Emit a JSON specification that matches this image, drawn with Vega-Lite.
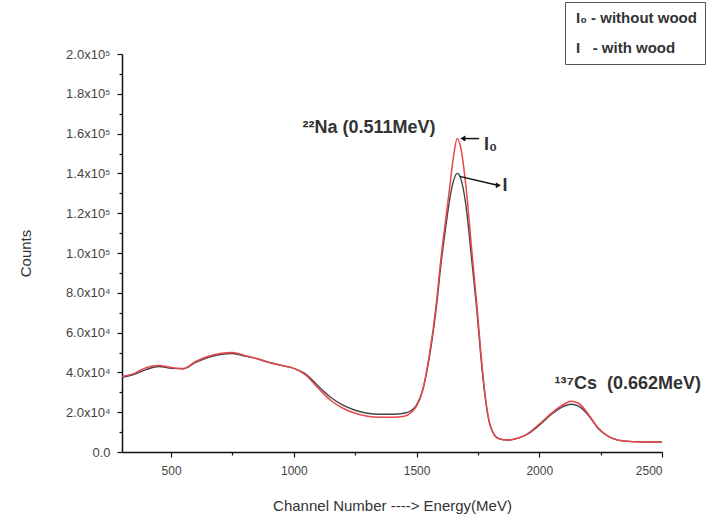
{
  "$schema": "https://vega.github.io/schema/vega-lite/v6.json",
  "width": 540,
  "height": 398,
  "autosize": "none",
  "padding": {"left": 122, "top": 54, "right": 57, "bottom": 65},
  "background": "white",
  "config": {
    "view": {"stroke": null},
    "font": "Liberation Sans",
    "axis": {"grid": false, "domainColor": "#111", "tickColor": "#111", "domainWidth": 1.5, "tickWidth": 1.2, "labelFont": "Liberation Sans", "titleFont": "Liberation Sans", "labelColor": "#444", "titleColor": "#333", "titleFontWeight": "normal"}
  },
  "datasets": {
    "with": [
      {"ch": 300, "counts": 37500}, {"ch": 350, "counts": 39000}, {"ch": 400, "counts": 41500}, {"ch": 450, "counts": 43000},
      {"ch": 500, "counts": 42000}, {"ch": 550, "counts": 41800}, {"ch": 600, "counts": 45000}, {"ch": 650, "counts": 47500},
      {"ch": 700, "counts": 49000}, {"ch": 750, "counts": 49500}, {"ch": 800, "counts": 48200}, {"ch": 850, "counts": 46800},
      {"ch": 900, "counts": 45000}, {"ch": 950, "counts": 43500}, {"ch": 1000, "counts": 42000}, {"ch": 1050, "counts": 39000},
      {"ch": 1100, "counts": 33000}, {"ch": 1150, "counts": 27500}, {"ch": 1200, "counts": 23500}, {"ch": 1250, "counts": 21000},
      {"ch": 1300, "counts": 19500}, {"ch": 1350, "counts": 19000}, {"ch": 1400, "counts": 19000}, {"ch": 1450, "counts": 19500},
      {"ch": 1480, "counts": 21000}, {"ch": 1500, "counts": 23500}, {"ch": 1525, "counts": 31000}, {"ch": 1550, "counts": 46000},
      {"ch": 1580, "counts": 72000}, {"ch": 1600, "counts": 95000}, {"ch": 1620, "counts": 114000}, {"ch": 1635, "counts": 127000},
      {"ch": 1650, "counts": 136000}, {"ch": 1666, "counts": 140000}, {"ch": 1680, "counts": 137500}, {"ch": 1700, "counts": 125000},
      {"ch": 1726, "counts": 95000}, {"ch": 1745, "counts": 72000}, {"ch": 1762, "counts": 48000}, {"ch": 1780, "counts": 27000},
      {"ch": 1795, "counts": 15500}, {"ch": 1815, "counts": 9000}, {"ch": 1840, "counts": 6500}, {"ch": 1870, "counts": 6000},
      {"ch": 1900, "counts": 6500}, {"ch": 1950, "counts": 8800}, {"ch": 2000, "counts": 13500}, {"ch": 2050, "counts": 19000},
      {"ch": 2100, "counts": 23000}, {"ch": 2130, "counts": 24000}, {"ch": 2160, "counts": 23000}, {"ch": 2200, "counts": 18500},
      {"ch": 2240, "counts": 11800}, {"ch": 2280, "counts": 8000}, {"ch": 2320, "counts": 6000}, {"ch": 2380, "counts": 5200},
      {"ch": 2450, "counts": 5000}, {"ch": 2500, "counts": 5000}
    ],
    "without": [
      {"ch": 300, "counts": 38000}, {"ch": 350, "counts": 39500}, {"ch": 400, "counts": 42500}, {"ch": 450, "counts": 43500},
      {"ch": 500, "counts": 42500}, {"ch": 550, "counts": 42000}, {"ch": 600, "counts": 45500}, {"ch": 650, "counts": 48000},
      {"ch": 700, "counts": 49500}, {"ch": 750, "counts": 50000}, {"ch": 800, "counts": 48500}, {"ch": 850, "counts": 47000},
      {"ch": 900, "counts": 45000}, {"ch": 950, "counts": 43500}, {"ch": 1000, "counts": 42000}, {"ch": 1050, "counts": 38500},
      {"ch": 1100, "counts": 32000}, {"ch": 1150, "counts": 26000}, {"ch": 1200, "counts": 22000}, {"ch": 1250, "counts": 19500},
      {"ch": 1300, "counts": 18000}, {"ch": 1350, "counts": 17500}, {"ch": 1400, "counts": 17500}, {"ch": 1450, "counts": 18000},
      {"ch": 1480, "counts": 20000}, {"ch": 1500, "counts": 23000}, {"ch": 1525, "counts": 31000}, {"ch": 1550, "counts": 47000},
      {"ch": 1580, "counts": 74000}, {"ch": 1600, "counts": 98000}, {"ch": 1620, "counts": 118000}, {"ch": 1635, "counts": 133000},
      {"ch": 1650, "counts": 148000}, {"ch": 1666, "counts": 157500}, {"ch": 1680, "counts": 153000}, {"ch": 1700, "counts": 135000},
      {"ch": 1726, "counts": 100000}, {"ch": 1745, "counts": 75000}, {"ch": 1762, "counts": 50000}, {"ch": 1780, "counts": 28000},
      {"ch": 1795, "counts": 16000}, {"ch": 1815, "counts": 9000}, {"ch": 1840, "counts": 6500}, {"ch": 1870, "counts": 6000},
      {"ch": 1900, "counts": 6500}, {"ch": 1950, "counts": 9000}, {"ch": 2000, "counts": 14000}, {"ch": 2050, "counts": 19500},
      {"ch": 2100, "counts": 24000}, {"ch": 2130, "counts": 25500}, {"ch": 2160, "counts": 24500}, {"ch": 2200, "counts": 19000},
      {"ch": 2240, "counts": 12000}, {"ch": 2280, "counts": 8000}, {"ch": 2320, "counts": 6000}, {"ch": 2380, "counts": 5200},
      {"ch": 2450, "counts": 5000}, {"ch": 2500, "counts": 5000}
    ],
    "labels": [
      {"x": 1035, "y": 163000, "text": "²²Na (0.511MeV)"},
      {"x": 1775, "y": 154500, "text": "I₀"},
      {"x": 1850, "y": 133500, "text": "I"},
      {"x": 2062, "y": 34000, "text": "¹³⁷Cs\u00a0\u00a0(0.662MeV)"}
    ],
    "arrows": [
      {"x": 1755, "y": 157500, "x2": 1692, "y2": 157500},
      {"x": 1675, "y": 138500, "x2": 1830, "y2": 134000}
    ]
  },
  "resolve": {"axis": {"x": "independent", "y": "independent"}},
  "layer": [
    {
      "data": {"name": "with"},
      "mark": {"type": "line", "strokeWidth": 1.4, "interpolate": "monotone"},
      "encoding": {
        "x": {"field": "ch", "type": "quantitative", "scale": {"domain": [300, 2500], "nice": false, "zero": false},
          "axis": {"orient": "bottom", "values": [500, 1000, 1500, 2000, 2500], "format": "d", "tickSize": 5, "labelFontSize": 12, "labelPadding": 8,
            "title": "Channel Number ----> Energy(MeV)", "titleFontSize": 15, "titlePadding": 22}},
        "y": {"field": "counts", "type": "quantitative", "scale": {"domain": [0, 200000], "nice": false},
          "axis": {"orient": "left", "values": [0, 20000, 40000, 60000, 80000, 100000, 120000, 140000, 160000, 180000, 200000], "tickSize": 5, "labelFontSize": 13, "labelPadding": 7,
            "labelExpr": "datum.value == 0 ? '0.0' : datum.value >= 100000 ? format(datum.value/100000, '.1f') + 'x10⁵' : format(datum.value/10000, '.1f') + 'x10⁴'",
            "title": "Counts", "titleFontSize": 15, "titlePadding": 32}},
        "color": {"datum": "I", "type": "nominal", "scale": {"domain": ["I0", "I"], "range": ["#e8474f", "#444444"]},
          "legend": {"orient": "none", "legendX": 443, "legendY": -52, "title": null, "strokeColor": "#555", "fillColor": "white", "padding": 8,
            "symbolSize": 0, "symbolOpacity": 0, "symbolStrokeWidth": 0, "labelOffset": -12, "labelFontSize": 15, "labelFontWeight": "bold", "labelColor": "#333", "rowPadding": 14,
            "labelExpr": "datum.label == 'I0' ? 'I₀ - without wood' : 'I\u00a0\u00a0\u00a0- with wood'"}}
      }
    },
    {
      "data": {"name": "without"},
      "mark": {"type": "line", "strokeWidth": 1.5, "interpolate": "monotone"},
      "encoding": {
        "x": {"field": "ch", "type": "quantitative",
          "axis": {"orient": "bottom", "values": [750, 1250, 1750, 2250], "tickSize": 3, "labels": false, "domain": false, "title": null}},
        "y": {"field": "counts", "type": "quantitative",
          "axis": {"orient": "left", "values": [10000, 30000, 50000, 70000, 90000, 110000, 130000, 150000, 170000, 190000], "tickSize": 3, "labels": false, "domain": false, "title": null}},
        "color": {"datum": "I0", "type": "nominal"}
      }
    },
    {
      "data": {"name": "arrows"},
      "mark": {"type": "rule", "color": "#111", "strokeWidth": 1.5},
      "encoding": {
        "x": {"field": "x", "type": "quantitative", "axis": null},
        "y": {"field": "y", "type": "quantitative", "axis": null},
        "x2": {"field": "x2"},
        "y2": {"field": "y2"}
      }
    },
    {
      "data": {"name": "arrows"},
      "mark": {"type": "point", "shape": "triangle", "filled": true, "color": "#111", "size": 35, "opacity": 1},
      "encoding": {
        "x": {"field": "x2", "type": "quantitative", "axis": null},
        "y": {"field": "y2", "type": "quantitative", "axis": null},
        "angle": {"condition": {"test": "datum.x2 < datum.x", "value": 270}, "value": 90}
      }
    },
    {
      "data": {"name": "labels"},
      "mark": {"type": "text", "align": "left", "baseline": "middle", "fontSize": 18, "fontWeight": "bold", "color": "#333", "font": "Liberation Sans"},
      "encoding": {
        "x": {"field": "x", "type": "quantitative", "axis": null},
        "y": {"field": "y", "type": "quantitative", "axis": null},
        "text": {"field": "text"}
      }
    }
  ]
}
